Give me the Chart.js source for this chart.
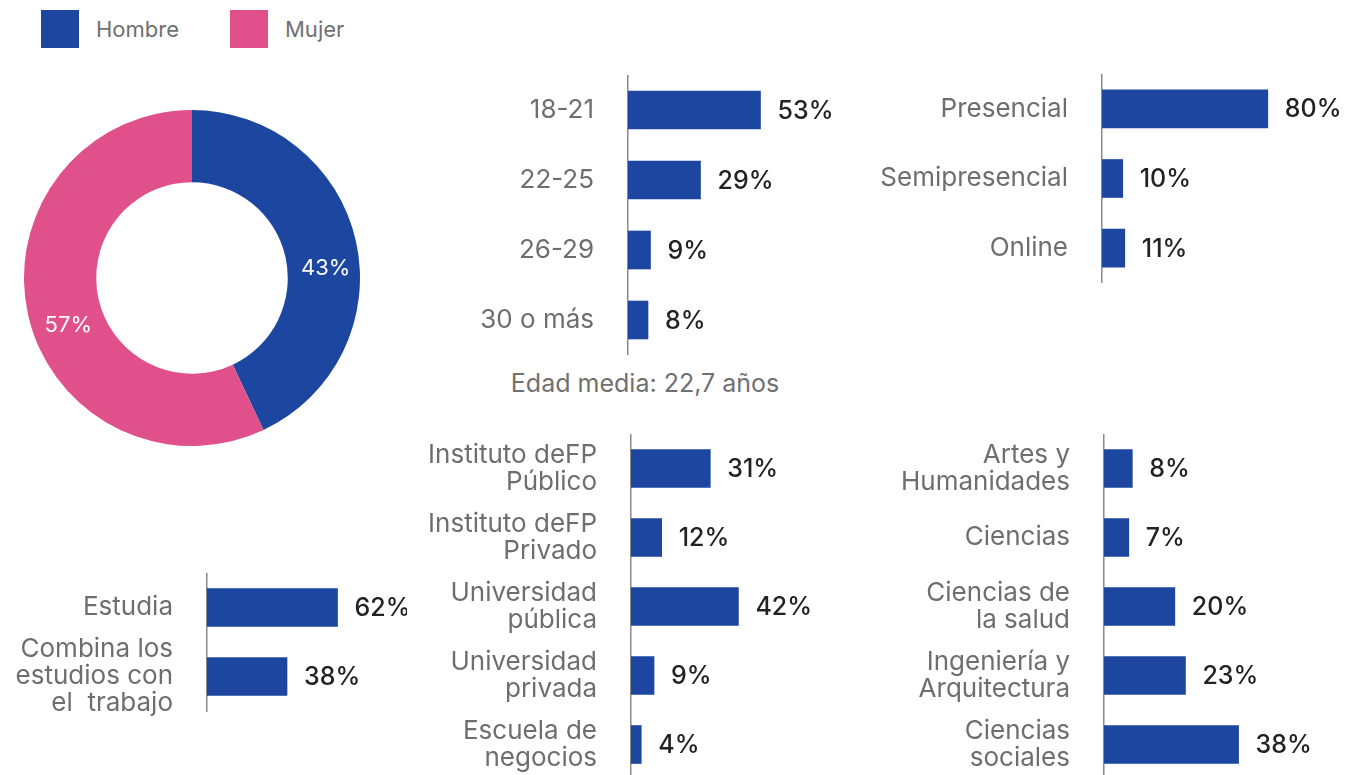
<!DOCTYPE html>
<html lang="es">
<head>
<meta charset="utf-8">
<title>Perfil del estudiante</title>
<script src="https://cdn.jsdelivr.net/npm/chart.js@4.4.1/dist/chart.umd.min.js"></script>
<style>
  html, body { margin: 0; padding: 0; background: #fff; }
  body { width: 1359px; height: 775px; position: relative; overflow: hidden; font-family: Inter, "Noto Sans", sans-serif; }
  canvas { position: absolute; }
  .legend .item { position: absolute; top: 10px; display: flex; align-items: center; }
  .legend .box { width: 38px; height: 38px; margin-right: 17px; }
  .legend span { font-size: 22px; color: #707070; }
  .note { position: absolute; left: 645px; top: 368px; transform: translateX(-50%); white-space: nowrap; font-size: 25px; color: #707070; }
</style>
</head>
<body>

<div class="legend" id="legend"></div>
<canvas id="genero" width="336" height="336" style="left:24px;top:110px"></canvas>
<canvas id="edad" width="458" height="280" style="left:400px;top:75px"></canvas>
<div class="note">Edad media: 22,7 años</div>
<canvas id="modalidad" width="509" height="209" style="left:850px;top:74px"></canvas>
<canvas id="centro" width="451" height="345" style="left:400px;top:434px"></canvas>
<canvas id="rama" width="479" height="345" style="left:880px;top:434px"></canvas>
<canvas id="situacion" width="407" height="168" style="left:0px;top:573px"></canvas>

<script>
// datos
const generoLabels = ['Hombre', 'Mujer'];
const generoValues = [43, 57];

const edadLabels = ['18-21', '22-25', '26-29', '30 o más'];
const edadValues = [53, 29, 9, 8];

const modalidadLabels = ['Presencial', 'Semipresencial', 'Online'];
const modalidadValues = [80, 10, 11];

const centroLabels = [['Instituto deFP', 'Público'], ['Instituto deFP', 'Privado'], ['Universidad', 'pública'], ['Universidad', 'privada'], ['Escuela de', 'negocios']];
const centroValues = [31, 12, 42, 9, 4];

const ramaLabels = [['Artes y', 'Humanidades'], 'Ciencias', ['Ciencias de', 'la salud'], ['Ingeniería y', 'Arquitectura'], ['Ciencias', 'sociales']];
const ramaValues = [8, 7, 20, 23, 38];

const situacionLabels = ['Estudia', ['Combina los', 'estudios con', 'el  trabajo']];
const situacionValues = [62, 38];

const AZUL = '#1d46a0';
const ROSA = '#e0518b';
const FONT = 'Inter, "Noto Sans", sans-serif';

// leyenda
const legend = document.getElementById('legend');
const legendLeft = [41, 230];
generoLabels.forEach((l, i) => {
    const div = document.createElement('div');
    div.className = 'item';
    div.style.left = legendLeft[i] + 'px';
    div.innerHTML = `<div class="box" style="background:${i === 0 ? AZUL : ROSA}"></div><span>${l}</span>`;
    legend.appendChild(div);
});

// etiquetas de valor al final de la barra
const valueLabels = {
    id: 'valueLabels',
    afterDatasetsDraw(chart) {
        const ctx = chart.ctx;
        const meta = chart.getDatasetMeta(0);
        ctx.save();
        ctx.font = '500 25px ' + FONT;
        ctx.fillStyle = '#222';
        ctx.textBaseline = 'middle';
        ctx.textAlign = 'left';
        meta.data.forEach((bar, i) => {
            ctx.fillText(chart.data.datasets[0].data[i] + '%', bar.x + 17, bar.y + 1);
        });
        ctx.restore();
    }
};

function makeBar(id, labels, values, axisW, max, padBottom) {
    const ctx = document.getElementById(id).getContext('2d');
    return new Chart(ctx, {
        type: 'bar',
        data: {
            labels: labels,
            datasets: [{ data: values, backgroundColor: AZUL, barThickness: 38 }]
        },
        options: {
            indexAxis: 'y',
            responsive: false,
            animation: false,
            layout: { padding: { top: 0, left: 0, right: 0, bottom: padBottom || 0 } },
            plugins: { legend: { display: false }, tooltip: { enabled: false } },
            scales: {
                x: { display: false, min: 0, max: max },
                y: {
                    grid: { display: false, drawTicks: false },
                    border: { display: true, color: '#8a8a8a', width: 1.5 },
                    ticks: { autoSkip: false, color: '#6e6e6e', padding: 34, font: { family: FONT, size: 26, lineHeight: 1.04 } },
                    afterFit(scale) {
                        scale.width = axisW;
                        scale.paddingTop = 0;
                        scale.paddingBottom = 0;
                    }
                }
            }
        },
        plugins: [valueLabels]
    });
}

makeBar('edad', edadLabels, edadValues, 228, 92);
makeBar('modalidad', modalidadLabels, modalidadValues, 252, 124);
makeBar('centro', centroLabels, centroValues, 231, 86);
makeBar('rama', ramaLabels, ramaValues, 224, 72);
makeBar('situacion', situacionLabels, situacionValues, 207, 95, 30);

// donut
const donutLabels = {
    id: 'donutLabels',
    afterDatasetsDraw(chart) {
        const ctx = chart.ctx;
        ctx.save();
        ctx.font = '22px ' + FONT;
        ctx.fillStyle = '#fff';
        ctx.textAlign = 'center';
        ctx.textBaseline = 'middle';
        chart.getDatasetMeta(0).data.forEach((arc, i) => {
            const p = arc.tooltipPosition();
            ctx.fillText(chart.data.datasets[0].data[i] + '%', p.x + 5, p.y + 19);
        });
        ctx.restore();
    }
};

new Chart(document.getElementById('genero').getContext('2d'), {
    type: 'doughnut',
    data: {
        labels: generoLabels,
        datasets: [{ data: generoValues, backgroundColor: [AZUL, ROSA], borderWidth: 0 }]
    },
    options: {
        responsive: false,
        animation: false,
        cutout: '57%',
        layout: { padding: 0 },
        plugins: { legend: { display: false }, tooltip: { enabled: false } }
    },
    plugins: [donutLabels]
});
</script>
</body>
</html>
